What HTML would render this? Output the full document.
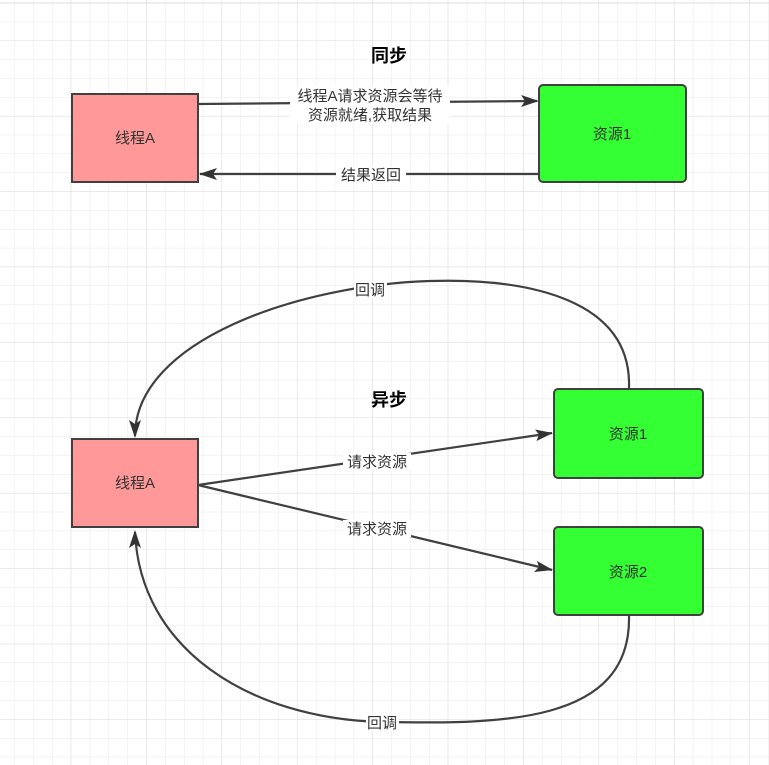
<!DOCTYPE html>
<html><head><meta charset="utf-8"><style>
html,body{margin:0;padding:0;background:#fff}
svg{display:block}
text{font-family:"Liberation Sans","Noto Sans CJK SC",sans-serif}
</style></head><body>
<svg width="769" height="765" xmlns="http://www.w3.org/2000/svg">
<defs>
<pattern id="g" x="14.3" y="2.8" width="18.85" height="18.85" patternUnits="userSpaceOnUse">
<path d="M0 0H18.85M0 0V18.85" stroke="#e8e8e8" stroke-width="1" fill="none"/>
</pattern>
<pattern id="G" x="70.7" y="40.5" width="75.4" height="75.4" patternUnits="userSpaceOnUse">
<path d="M0 0H75.4M0 0V75.4" stroke="#dedede" stroke-width="1" fill="none"/>
</pattern>
</defs>
<rect width="769" height="765" fill="#fff"/>
<rect width="769" height="765" fill="url(#g)"/>
<rect width="769" height="765" fill="url(#G)"/>
<line x1="0" y1="3" x2="769" y2="3" stroke="#ddd"/>

<g stroke="#404040" stroke-width="2.2" fill="none">
<line x1="198" y1="104" x2="537" y2="101"/>
<line x1="539" y1="174" x2="200" y2="174"/>
<line x1="198" y1="485" x2="552" y2="433"/>
<line x1="198" y1="485" x2="552" y2="570"/>
<path d="M629,388 C632,300 530,278 430,281 C300,285 135,340 135,436"/>
<path d="M629,615 C632,725 500,724 380,722 C250,718 140,650 135,532"/>
</g>
<g fill="#333">
<path d="M539,101 L521,95 L525,101 L521,107 Z"/>
<path d="M199,174 L217,168 L213,174 L217,180 Z"/>
<path d="M553,433 L535,429.5 L539,434.5 L536.5,441 Z"/>
<path d="M553,570 L537,561 L539,567 L534,572 Z"/>
<path d="M135,438 L129,420 L135,424 L141,420 Z"/>
<path d="M135,530 L129,548 L135,544 L141,548 Z"/>
</g>

<rect x="72" y="94" width="126" height="88" fill="#ff9999" stroke="#404040" stroke-width="2"/>
<text x="135" y="143" font-size="15" fill="#333" text-anchor="middle">线程A</text>
<rect x="539" y="85" width="147" height="97" rx="4" fill="#33ff33" stroke="#404040" stroke-width="2"/>
<text x="612" y="139" font-size="15" fill="#333" text-anchor="middle">资源1</text>

<rect x="72" y="439" width="126" height="88" fill="#ff9999" stroke="#404040" stroke-width="2"/>
<text x="135" y="488" font-size="15" fill="#333" text-anchor="middle">线程A</text>
<rect x="554" y="389" width="149" height="89" rx="4" fill="#33ff33" stroke="#404040" stroke-width="2"/>
<text x="628" y="439" font-size="15" fill="#333" text-anchor="middle">资源1</text>
<rect x="554" y="527" width="149" height="88" rx="4" fill="#33ff33" stroke="#404040" stroke-width="2"/>
<text x="628" y="577" font-size="15" fill="#333" text-anchor="middle">资源2</text>

<text x="389" y="62" font-size="18" font-weight="bold" fill="#000" text-anchor="middle">同步</text>
<text x="389" y="406" font-size="18" font-weight="bold" fill="#000" text-anchor="middle">异步</text>

<rect x="290" y="86" width="160" height="38" fill="#fff"/>
<text x="370" y="101" font-size="15" fill="#333" text-anchor="middle">线程A请求资源会等待</text>
<text x="370" y="120" font-size="15" fill="#333" text-anchor="middle">资源就绪,获取结果</text>
<rect x="336" y="166" width="70" height="17" fill="#fff"/>
<text x="371" y="180" font-size="15" fill="#333" text-anchor="middle">结果返回</text>
<rect x="343" y="453" width="68" height="17" fill="#fff"/>
<text x="377" y="467" font-size="15" fill="#333" text-anchor="middle">请求资源</text>
<rect x="343" y="520" width="68" height="17" fill="#fff"/>
<text x="377" y="534" font-size="15" fill="#333" text-anchor="middle">请求资源</text>
<rect x="354" y="281" width="33" height="17" fill="#fff"/>
<text x="370" y="295" font-size="15" fill="#333" text-anchor="middle">回调</text>
<rect x="366" y="714" width="33" height="17" fill="#fff"/>
<text x="382" y="728" font-size="15" fill="#333" text-anchor="middle">回调</text>
</svg>
</body></html>
